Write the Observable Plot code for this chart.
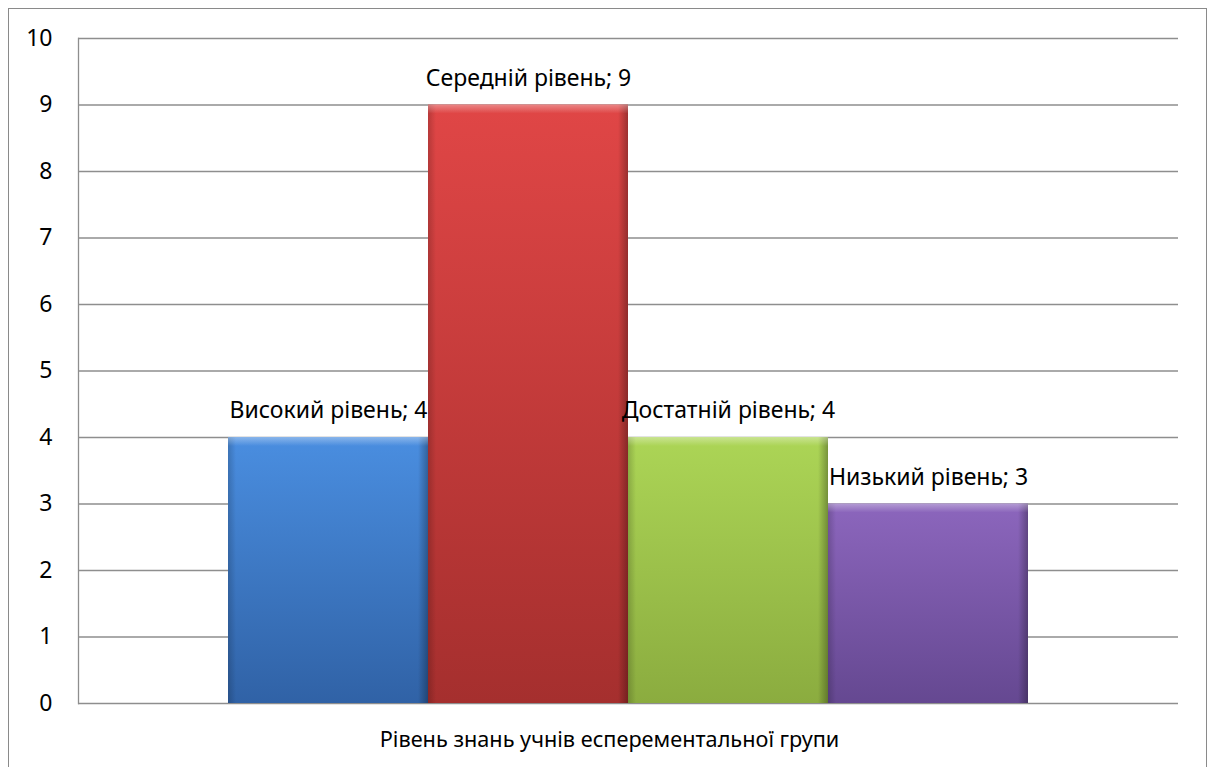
<!DOCTYPE html>
<html>
<head>
<meta charset="utf-8">
<script src="https://cdn.jsdelivr.net/npm/d3@7"></script>
<script src="https://cdn.jsdelivr.net/npm/@observablehq/plot@0.6"></script>
<style>
  html, body { margin: 0; padding: 0; background: #fff; }
  #wrap { position: relative; width: 1210px; height: 767px; overflow: hidden; }
  #border { position: absolute; left: 8px; top: 8px; width: 1197px; height: 800px; border: 1.5px solid #8a8a8a; pointer-events: none; }
</style>
</head>
<body>
<div id="wrap"><div id="border"></div></div>
<script>
const categories = ["Високий рівень", "Середній рівень", "Достатній рівень", "Низький рівень"];
const values = [4, 9, 4, 3];
const yTicks = [0, 1, 2, 3, 4, 5, 6, 7, 8, 9, 10];
const xTitle = "Рівень знань учнів есперементальної групи";
const colorsTop = ["#4a8ee0", "#e04646", "#acd556", "#8c66bd"];
const colorsBottom = ["#3062a6", "#a52f2e", "#8bac3f", "#654891"];

const data = categories.map((c, i) => ({category: c, value: values[i], id: "g" + i, label: c + "; " + values[i]}));

const FONT = "'Noto Sans', sans-serif";

function defs() {
  const d = d3.create("svg:defs");
  data.forEach((row, i) => {
    const g = d.append("linearGradient").attr("id", row.id).attr("x1", 0).attr("y1", 0).attr("x2", 0).attr("y2", 1);
    g.append("stop").attr("offset", "0%").attr("stop-color", colorsTop[i]);
    g.append("stop").attr("offset", "100%").attr("stop-color", colorsBottom[i]);
  });
  const h = d.append("linearGradient").attr("id", "hshade").attr("x1", 0).attr("y1", 0).attr("x2", 1).attr("y2", 0);
  h.append("stop").attr("offset", "0%").attr("stop-color", "#000").attr("stop-opacity", 0.18);
  h.append("stop").attr("offset", "4%").attr("stop-color", "#000").attr("stop-opacity", 0);
  h.append("stop").attr("offset", "95%").attr("stop-color", "#000").attr("stop-opacity", 0);
  h.append("stop").attr("offset", "100%").attr("stop-color", "#000").attr("stop-opacity", 0.3);
  const t = d.append("linearGradient").attr("id", "tshade").attr("x1", 0).attr("y1", 0).attr("x2", 0).attr("y2", 1);
  t.append("stop").attr("offset", "0%").attr("stop-color", "#fff").attr("stop-opacity", 0.35);
  t.append("stop").attr("offset", "100%").attr("stop-color", "#fff").attr("stop-opacity", 0);
  return d.node();
}

const chart = Plot.plot({
  width: 1210,
  height: 767,
  marginLeft: 78,
  marginRight: 32,
  marginTop: 38,
  marginBottom: 64,
  style: {fontFamily: FONT, fontSize: "23px", color: "#000", background: "transparent", overflow: "visible"},
  x: {type: "band", domain: categories, paddingInner: 0, paddingOuter: 0.75, axis: null},
  y: {domain: [0, 10], ticks: yTicks, tickSize: 0, tickPadding: 26, label: null, tickFormat: d => String(d)},
  marks: [
    defs,
    Plot.ruleY(yTicks, {stroke: "#8e8e8e", strokeWidth: 1.3}),
    Plot.frame({anchor: "left", stroke: "#8e8e8e", strokeWidth: 1.3}),
    Plot.barY(data, {x: "category", y: "value", fill: d => `url(#${d.id})`}),
    Plot.barY(data, {x: "category", y: "value", fill: () => "url(#hshade)"}),
    Plot.barY(data, {x: "category", y1: "value", y2: "value", insetBottom: -9, fill: () => "url(#tshade)"}),
    Plot.text(data, {x: "category", y: "value", text: "label", lineAnchor: "middle", dy: -26.5, fill: "#000", fontSize: 23}),
    Plot.text([xTitle], {frameAnchor: "bottom", text: d => d, dx: -19, dy: 37, lineAnchor: "middle", fill: "#000", fontSize: 21.7})
  ]
});
document.getElementById("wrap").prepend(chart);
</script>
</body>
</html>
